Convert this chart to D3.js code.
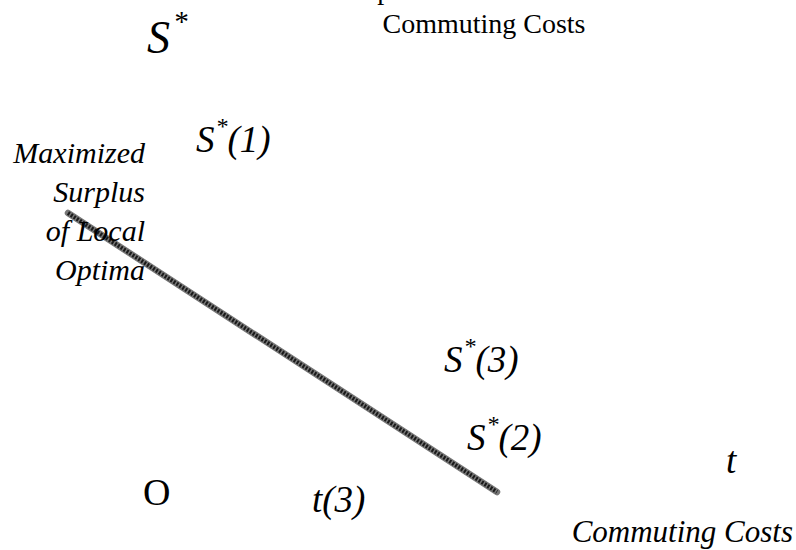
<!DOCTYPE html>
<html lang="en">
<head>
<meta charset="UTF-8">
<script src="https://d3js.org/d3.v7.min.js"></script>
<style>
    body { margin: 0; background: #fff; }
    svg text { font-family: 'Liberation Serif', 'Times New Roman', serif; fill: #000; }
</style>
</head>
<body>
<svg id="chart" width="796" height="550"></svg>
<script>
// Commuting cost t (x) against maximized surplus of local optima S* (y)
const costT = [0, 10];
const surplusS = [10, 0];

// labels that sit on the diagram
const pointLabels = [
    { base: 'S', sub: '(1)', x: 196, y: 152 },
    { base: 'S', sub: '(3)', x: 444, y: 372 },
    { base: 'S', sub: '(2)', x: 467, y: 450 }
];
const sideLabelLines = ['Maximized', 'Surplus', 'of Local', 'Optima'];

const svg = d3.select('#chart');

const x = d3.scaleLinear().domain([0, 10]).range([68, 497]);
const y = d3.scaleLinear().domain([0, 10]).range([492, 213]);

const pts = costT.map((t, i) => [x(t), y(surplusS[i])]);
const line = d3.line();

// textured line: soft base plus a darker dotted core
svg.append('path')
    .attr('d', line(pts))
    .attr('fill', 'none')
    .attr('stroke', '#777')
    .attr('stroke-width', 6.5)
    .attr('stroke-linecap', 'round');
svg.append('path')
    .attr('d', line(pts))
    .attr('fill', 'none')
    .attr('stroke', '#1a1a1a')
    .attr('stroke-width', 4)
    .attr('stroke-dasharray', '2,1.5');

// cut-off heading line above the top label
svg.append('text')
    .attr('x', 357).attr('y', -1)
    .style('font-size', '28px')
    .text('Optimal');

svg.append('text')
    .attr('x', 484).attr('y', 33)
    .attr('text-anchor', 'middle')
    .style('font-size', '28px')
    .text('Commuting Costs');

// y axis name S*
const sTop = svg.append('text')
    .attr('x', 147).attr('y', 53)
    .style('font-size', '46px')
    .style('font-style', 'italic');
sTop.append('tspan').text('S');
sTop.append('tspan').attr('dx', 3).attr('dy', -22).style('font-size', '29px').text('*');

pointLabels.forEach(d => {
    const t = svg.append('text')
        .attr('x', d.x).attr('y', d.y)
        .style('font-size', '37px')
        .style('font-style', 'italic');
    t.append('tspan').text(d.base);
    t.append('tspan').attr('dx', 1).attr('dy', -18).style('font-size', '24px').text('*');
    t.append('tspan').attr('dy', 18).text(d.sub);
});

const side = svg.append('text')
    .attr('text-anchor', 'end')
    .style('font-size', '30px')
    .style('font-style', 'italic');
sideLabelLines.forEach((s, i) => {
    side.append('tspan').attr('x', 145).attr('y', 163 + i * 39).text(s);
});

svg.append('text')
    .attr('x', 143).attr('y', 505)
    .style('font-size', '38px')
    .text('O');

svg.append('text')
    .attr('x', 312).attr('y', 512)
    .style('font-size', '37px')
    .style('font-style', 'italic')
    .text('t(3)');

svg.append('text')
    .attr('x', 726).attr('y', 473)
    .style('font-size', '37px')
    .style('font-style', 'italic')
    .text('t');

svg.append('text')
    .attr('x', 793).attr('y', 542)
    .attr('text-anchor', 'end')
    .style('font-size', '31px')
    .style('font-style', 'italic')
    .text('Commuting Costs');
</script>
</body>
</html>
